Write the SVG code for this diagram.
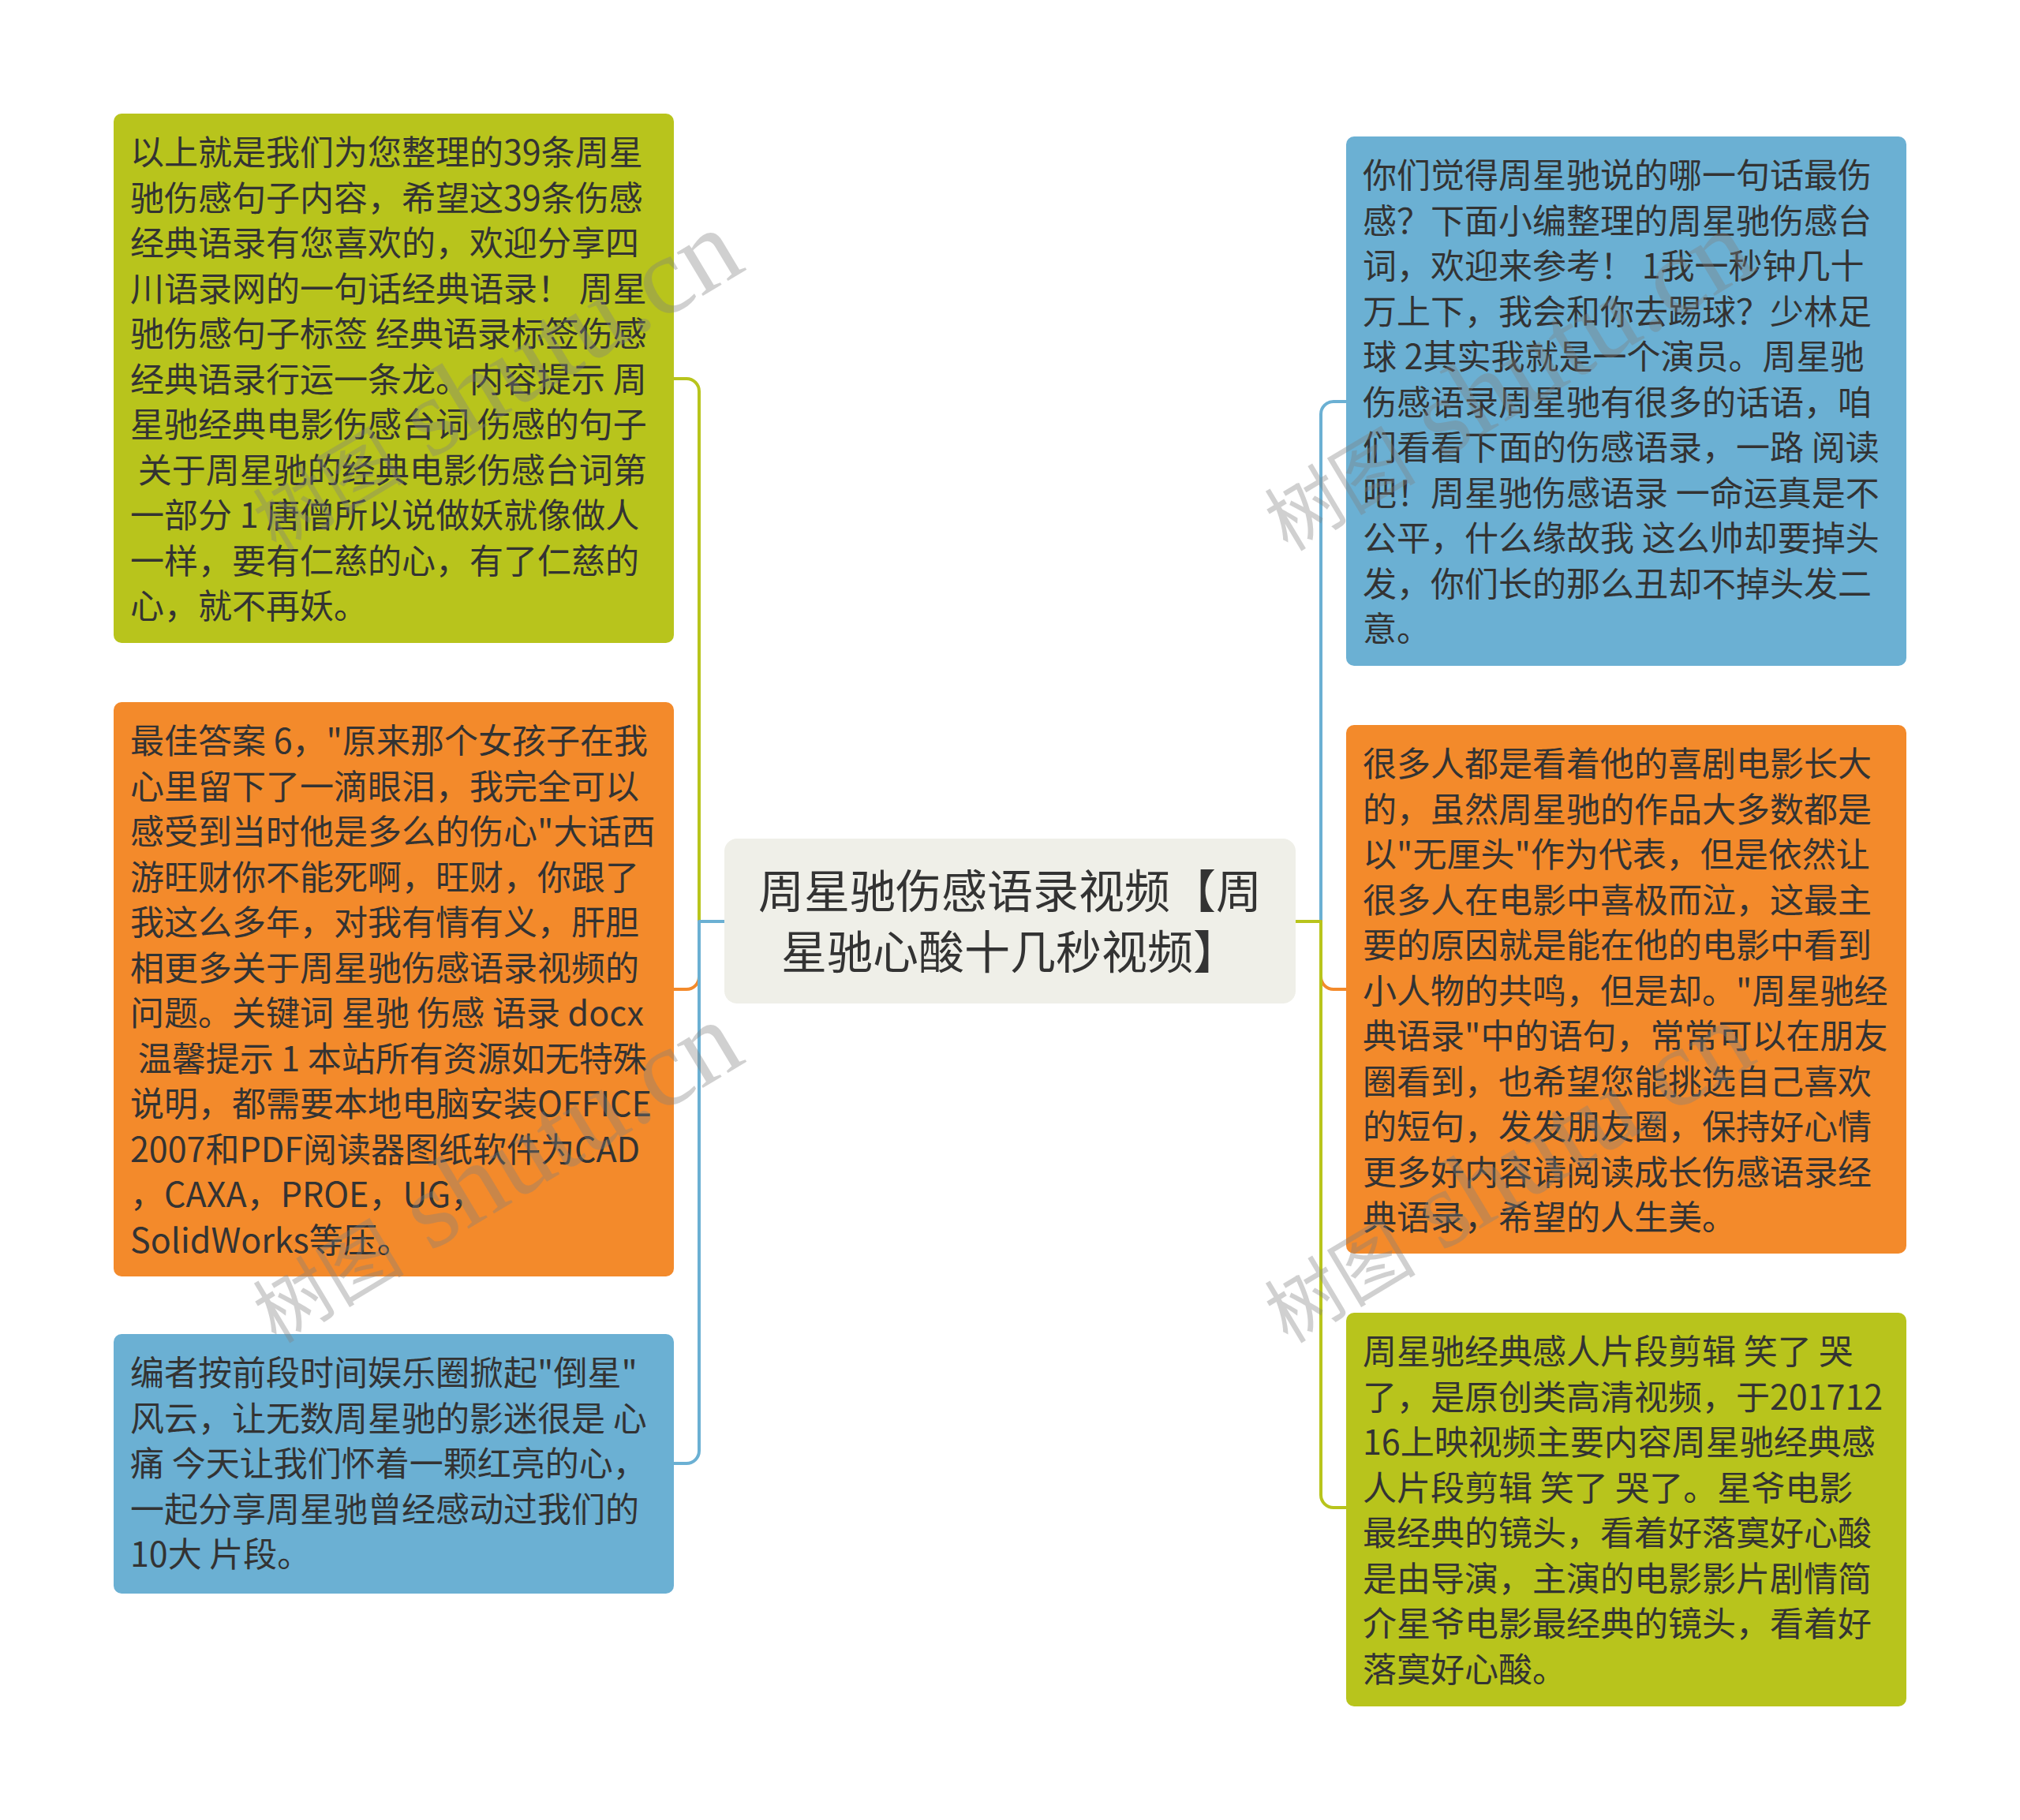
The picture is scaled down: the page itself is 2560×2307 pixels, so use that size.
<svg xmlns="http://www.w3.org/2000/svg" width="2560" height="2307" viewBox="0 0 2560 2307" xml:space="preserve">
<style>
.bg{fill:#ffffff}
.green{fill:#b8c41c}
.orange{fill:#f38a2b}
.blue{fill:#6bb0d3}
.center{fill:#efefe8}
.t{font-family:"Noto Sans CJK SC","Microsoft YaHei",sans-serif;font-size:43px;fill:#333333;white-space:pre}
.ct{font-family:"Noto Sans CJK SC","Microsoft YaHei",sans-serif;font-size:58px;fill:#333333;text-anchor:middle}
.c{fill:none;stroke-width:4;stroke-linecap:round;stroke-linejoin:round}
.cg{stroke:#b8c41c}
.co{stroke:#f38a2b}
.cb{stroke:#6bb0d3}
.wm{font-family:"Liberation Serif","Noto Sans CJK SC",serif;fill:#808080;opacity:0.36}
</style>
<rect class="bg" x="0" y="0" width="2560" height="2307"/>

<g id="connectors">
<path class="c cg" d="M918,1168 H886 V496 A16,16 0 0 0 870,480 H854"/>
<path class="c co" d="M918,1168 H886 V1238 A16,16 0 0 1 870,1254 H854"/>
<path class="c cb" d="M918,1168 H886 V1839 A16,16 0 0 1 870,1855 H854"/>
<path class="c cb" d="M1642,1168 H1674 V525 A16,16 0 0 1 1690,509 H1706"/>
<path class="c co" d="M1642,1168 H1674 V1238 A16,16 0 0 0 1690,1254 H1706"/>
<path class="c cg" d="M1642,1168 H1674 V1895 A16,16 0 0 0 1690,1911 H1706"/>
</g>

<g id="center">
<rect class="center" x="918" y="1063" width="724" height="209" rx="16"/>
<text class="ct" x="1280" y="1151">周星驰伤感语录视频【周</text>
<text class="ct" x="1280" y="1228">星驰心酸十几秒视频】</text>
</g>

<g id="left1">
<rect class="green" x="144" y="144" width="710" height="671" rx="10"/>
<text class="t" x="165" y="209">以上就是我们为您整理的39条周星</text>
<text class="t" x="165" y="266.5">驰伤感句子内容，希望这39条伤感</text>
<text class="t" x="165" y="324">经典语录有您喜欢的，欢迎分享四</text>
<text class="t" x="165" y="381.5">川语录网的一句话经典语录！ 周星</text>
<text class="t" x="165" y="439">驰伤感句子标签 经典语录标签伤感</text>
<text class="t" x="165" y="496.5">经典语录行运一条龙。内容提示 周</text>
<text class="t" x="165" y="554">星驰经典电影伤感台词 伤感的句子</text>
<text class="t" x="165" y="611.5"> 关于周星驰的经典电影伤感台词第</text>
<text class="t" x="165" y="669">一部分 1 唐僧所以说做妖就像做人</text>
<text class="t" x="165" y="726.5">一样，要有仁慈的心，有了仁慈的</text>
<text class="t" x="165" y="784">心，就不再妖。</text>
</g>

<g id="left2">
<rect class="orange" x="144" y="890" width="710" height="728" rx="10"/>
<text class="t" x="165" y="955">最佳答案 6，"原来那个女孩子在我</text>
<text class="t" x="165" y="1012.5">心里留下了一滴眼泪，我完全可以</text>
<text class="t" x="165" y="1070">感受到当时他是多么的伤心"大话西</text>
<text class="t" x="165" y="1127.5">游旺财你不能死啊，旺财，你跟了</text>
<text class="t" x="165" y="1185">我这么多年，对我有情有义，肝胆</text>
<text class="t" x="165" y="1242.5">相更多关于周星驰伤感语录视频的</text>
<text class="t" x="165" y="1300">问题。关键词 星驰 伤感 语录 docx</text>
<text class="t" x="165" y="1357.5"> 温馨提示 1 本站所有资源如无特殊</text>
<text class="t" x="165" y="1415">说明，都需要本地电脑安装OFFICE</text>
<text class="t" x="165" y="1472.5">2007和PDF阅读器图纸软件为CAD</text>
<text class="t" x="165" y="1530">，CAXA，PROE，UG，</text>
<text class="t" x="165" y="1587.5">SolidWorks等压。</text>
</g>

<g id="left3">
<rect class="blue" x="144" y="1691" width="710" height="329" rx="10"/>
<text class="t" x="165" y="1756">编者按前段时间娱乐圈掀起"倒星"</text>
<text class="t" x="165" y="1813.5">风云，让无数周星驰的影迷很是 心</text>
<text class="t" x="165" y="1871">痛 今天让我们怀着一颗红亮的心，</text>
<text class="t" x="165" y="1928.5">一起分享周星驰曾经感动过我们的</text>
<text class="t" x="165" y="1986">10大 片段。</text>
</g>

<g id="right1">
<rect class="blue" x="1706" y="173" width="710" height="671" rx="10"/>
<text class="t" x="1727" y="238">你们觉得周星驰说的哪一句话最伤</text>
<text class="t" x="1727" y="295.5">感？下面小编整理的周星驰伤感台</text>
<text class="t" x="1727" y="353">词，欢迎来参考！ 1我一秒钟几十</text>
<text class="t" x="1727" y="410.5">万上下，我会和你去踢球？少林足</text>
<text class="t" x="1727" y="468">球 2其实我就是一个演员。周星驰</text>
<text class="t" x="1727" y="525.5">伤感语录周星驰有很多的话语，咱</text>
<text class="t" x="1727" y="583">们看看下面的伤感语录，一路 阅读</text>
<text class="t" x="1727" y="640.5">吧！周星驰伤感语录 一命运真是不</text>
<text class="t" x="1727" y="698">公平，什么缘故我 这么帅却要掉头</text>
<text class="t" x="1727" y="755.5">发，你们长的那么丑却不掉头发二</text>
<text class="t" x="1727" y="813">意。</text>
</g>

<g id="right2">
<rect class="orange" x="1706" y="919" width="710" height="670" rx="10"/>
<text class="t" x="1727" y="984">很多人都是看着他的喜剧电影长大</text>
<text class="t" x="1727" y="1041.5">的，虽然周星驰的作品大多数都是</text>
<text class="t" x="1727" y="1099">以"无厘头"作为代表，但是依然让</text>
<text class="t" x="1727" y="1156.5">很多人在电影中喜极而泣，这最主</text>
<text class="t" x="1727" y="1214">要的原因就是能在他的电影中看到</text>
<text class="t" x="1727" y="1271.5">小人物的共鸣，但是却。"周星驰经</text>
<text class="t" x="1727" y="1329">典语录"中的语句，常常可以在朋友</text>
<text class="t" x="1727" y="1386.5">圈看到，也希望您能挑选自己喜欢</text>
<text class="t" x="1727" y="1444">的短句，发发朋友圈，保持好心情</text>
<text class="t" x="1727" y="1501.5">更多好内容请阅读成长伤感语录经</text>
<text class="t" x="1727" y="1559">典语录，希望的人生美。</text>
</g>

<g id="right3">
<rect class="green" x="1706" y="1664" width="710" height="499" rx="10"/>
<text class="t" x="1727" y="1729">周星驰经典感人片段剪辑 笑了 哭</text>
<text class="t" x="1727" y="1786.5">了，是原创类高清视频，于201712</text>
<text class="t" x="1727" y="1844">16上映视频主要内容周星驰经典感</text>
<text class="t" x="1727" y="1901.5">人片段剪辑 笑了 哭了。星爷电影</text>
<text class="t" x="1727" y="1959">最经典的镜头，看着好落寞好心酸</text>
<text class="t" x="1727" y="2016.5">是由导演，主演的电影影片剧情简</text>
<text class="t" x="1727" y="2074">介星爷电影最经典的镜头，看着好</text>
<text class="t" x="1727" y="2131.5">落寞好心酸。</text>
</g>

<g id="watermarks">
<text class="wm" transform="translate(350,700) rotate(-31)"><tspan font-size="96">树图</tspan><tspan font-size="140"> shutu.cn</tspan></text>
<text class="wm" transform="translate(350,1704) rotate(-31)"><tspan font-size="96">树图</tspan><tspan font-size="140"> shutu.cn</tspan></text>
<text class="wm" transform="translate(1632,700) rotate(-31)"><tspan font-size="96">树图</tspan><tspan font-size="140"> shutu.cn</tspan></text>
<text class="wm" transform="translate(1632,1704) rotate(-31)"><tspan font-size="96">树图</tspan><tspan font-size="140"> shutu.cn</tspan></text>
</g>
</svg>
